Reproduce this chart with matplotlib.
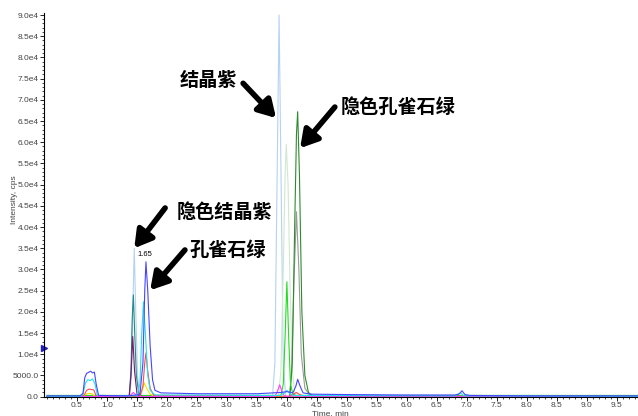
import matplotlib
matplotlib.use("Agg")
import matplotlib.pyplot as plt
from matplotlib.ticker import MultipleLocator

plt.rcParams['font.family'] = ['Noto Sans CJK SC', 'DejaVu Sans']

# ---- data: chromatogram traces (time in min, intensity in cps) ----
blue_t = [0, 0.55, 0.6, 0.63, 0.66, 0.7, 0.73, 0.76, 0.79, 0.82, 0.86, 1.35, 1.55, 1.6, 1.63, 1.65, 1.68,
          1.72, 1.76, 1.8, 1.9, 2.5, 3.5, 3.9, 4.0, 4.1, 4.15, 4.18, 4.22, 4.27, 4.4, 5.0, 6.0, 6.8, 6.87,
          6.92, 6.97, 7.05, 8.0, 9.85]
blue_i = [200, 200, 800, 4500, 5500, 5800, 6000, 5600, 5800, 3000, 300, 200, 500, 8000, 25000, 31800, 25000,
          12000, 4000, 1500, 900, 700, 700, 1000, 1200, 900, 2500, 4100, 2500, 900, 600, 500, 400, 400, 600,
          1400, 500, 300, 200, 200]

cyan_t = [0, 0.56, 0.6, 0.64, 0.68, 0.72, 0.76, 0.8, 0.84, 1.5, 1.55, 1.58, 1.61, 1.64, 1.68, 1.72, 1.8,
          3.9, 3.96, 4.0, 4.04, 4.1, 6.8, 6.86, 6.9, 6.95, 9.85]
cyan_i = [100, 100, 600, 3200, 4000, 3800, 4200, 3000, 300, 200, 3000, 15000, 22400, 15000, 5000, 1500, 400,
          300, 900, 1500, 900, 300, 200, 700, 900, 200, 100]

red_t = [0, 0.58, 0.62, 0.66, 0.7, 0.74, 0.78, 0.82, 1.55, 1.6, 1.63, 1.65, 1.68, 1.72, 1.78,
         4.05, 4.12, 4.16, 4.2, 4.3, 9.85]
red_i = [50, 50, 400, 1500, 1800, 1700, 1600, 200, 100, 2500, 8000, 10300, 6000, 2000, 300,
         100, 700, 1000, 600, 100, 50]

yellow_t = [0, 0.6, 0.65, 0.7, 0.75, 0.8, 1.55, 1.59, 1.62, 1.66, 1.72, 1.8, 9.85]
yellow_i = [0, 0, 600, 800, 700, 50, 0, 1500, 3300, 2000, 600, 50, 0]

magenta_t = [0, 1.38, 1.41, 1.44, 1.47, 1.5, 3.8, 3.84, 3.88, 3.92, 3.96, 9.85]
magenta_i = [50, 50, 600, 1000, 600, 50, 50, 1200, 2800, 1200, 100, 50]

lightblue_t = [0, 1.38, 1.41, 1.43, 1.455, 1.48, 1.51, 1.55, 3.76, 3.8, 3.84, 3.87, 3.9, 3.94, 3.98, 9.85]
lightblue_i = [0, 0, 5000, 20000, 35000, 20000, 5000, 0, 0, 8000, 55000, 90000, 55000, 8000, 0, 0]

teal_t = [0, 1.37, 1.4, 1.42, 1.44, 1.46, 1.49, 1.53, 1.6, 9.85]
teal_i = [0, 0, 6000, 18000, 24000, 16000, 5000, 800, 0, 0]

purple_t = [0, 1.37, 1.4, 1.43, 1.46, 1.5, 1.55, 9.85]
purple_i = [0, 0, 5000, 14200, 6000, 800, 0, 0]

palegreen_t = [0, 3.86, 3.9, 3.94, 3.97, 3.99, 4.02, 4.05, 4.09, 4.14, 9.85]
palegreen_i = [0, 0, 6000, 30000, 52000, 59500, 50000, 28000, 6000, 0, 0]

green_t = [0, 3.9, 3.94, 3.97, 4.0, 4.03, 4.06, 4.1, 4.15, 9.85]
green_i = [300, 300, 3000, 14000, 27100, 14000, 3000, 600, 300, 300]

darkgreen_t = [0, 4.05, 4.09, 4.13, 4.16, 4.18, 4.21, 4.25, 4.3, 4.36, 4.45, 9.85]
darkgreen_i = [0, 0, 8000, 40000, 62000, 67200, 52000, 20000, 5000, 1000, 0, 0]

gray_t = [0, 4.04, 4.08, 4.12, 4.16, 4.2, 4.24, 4.3, 4.4, 9.85]
gray_i = [0, 0, 6000, 28000, 43600, 30000, 10000, 2000, 0, 0]

traces = [
    (lightblue_t, lightblue_i, '#b4d2f2'),
    (palegreen_t, palegreen_i, '#cfe8cf'),
    (gray_t, gray_i, '#9a9a9a'),
    (darkgreen_t, darkgreen_i, '#2e8b2e'),
    (green_t, green_i, '#22dd22'),
    (teal_t, teal_i, '#228888'),
    (purple_t, purple_i, '#7a1a6a'),
    (yellow_t, yellow_i, '#f0e000'),
    (red_t, red_i, '#ff4a4a'),
    (magenta_t, magenta_i, '#ff40ff'),
    (cyan_t, cyan_i, '#22e0f0'),
    (blue_t, blue_i, '#4646ff'),
]

ytick_vals = [0, 5000, 10000, 15000, 20000, 25000, 30000, 35000, 40000, 45000,
              50000, 55000, 60000, 65000, 70000, 75000, 80000, 85000, 90000]
ytick_labels = ['0.0', '5000.0', '1.0e4', '1.5e4', '2.0e4', '2.5e4', '3.0e4', '3.5e4', '4.0e4', '4.5e4',
                '5.0e4', '5.5e4', '6.0e4', '6.5e4', '7.0e4', '7.5e4', '8.0e4', '8.5e4', '9.0e4']
xtick_vals = [0.5, 1.0, 1.5, 2.0, 2.5, 3.0, 3.5, 4.0, 4.5, 5.0, 5.5, 6.0, 6.5, 7.0, 7.5, 8.0, 8.5, 9.0, 9.5]

annotations = [
    ('结晶紫', (2.69, 74600), (3.27, 73900), (3.82, 65700)),
    ('隐色孔雀石绿', (5.85, 68300), (4.80, 68300), (4.22, 58600)),
    ('隐色结晶紫', (2.96, 43500), (1.97, 44500), (1.455, 35000)),
    ('孔雀石绿', (3.02, 34600), (2.30, 34600), (1.72, 25100)),
]

# ---- figure ----
W, H = 638, 416
fig = plt.figure(figsize=(W / 100, H / 100), dpi=100)
ymax = 90500
px_per = 381.7 / 90000
ax_bottom = 19.3 / H
ax_h = ymax * px_per / H
ax = fig.add_axes([44 / W, ax_bottom, (W - 44) / W, ax_h])

for t, i, c in traces:
    ax.plot(t, i, color=c, lw=0.8)

ax.set_xlim(-0.05, 9.855)
ax.set_ylim(0, ymax)
for s in ['top', 'right']:
    ax.spines[s].set_visible(False)
for s in ['left', 'bottom']:
    ax.spines[s].set_linewidth(0.8)

ax.set_xticks(xtick_vals)
ax.set_xticklabels([f'{v:.1f}' for v in xtick_vals])
ax.xaxis.set_minor_locator(MultipleLocator(0.1))
ax.set_yticks(ytick_vals)
ax.set_yticklabels(ytick_labels)
ax.yaxis.set_minor_locator(MultipleLocator(1000))
ax.tick_params(axis='both', which='major', length=3, width=0.6, labelsize=6, pad=1,
               labelcolor='#444444', labelfontfamily='Liberation Sans')
ax.tick_params(axis='both', which='minor', length=1.5, width=0.5)

fig.text(14 / W, 1 - 200 / H, 'Intensity, cps', rotation=90, ha='center', va='center',
         fontsize=6, family='Liberation Sans', color='#444444')
fig.text(330 / W, 1 - 414 / H, 'Time, min', ha='center', va='center',
         fontsize=6, family='Liberation Sans', color='#444444')

ax.plot([-0.05], [11400], marker='>', color='#2020c0', markersize=4, clip_on=False)
ax.text(1.64, 32700, '1.65', fontsize=5.5, ha='center', va='bottom', family='Liberation Sans')

for label, tpos, tail, head in annotations:
    ax.text(tpos[0], tpos[1], label, fontsize=13.8, fontweight='bold', ha='center', va='center')
    ax.annotate('', xy=head, xytext=tail,
                arrowprops=dict(arrowstyle='-|>,head_length=0.85,head_width=0.5', lw=4,
                                color='black', shrinkA=0, shrinkB=0, mutation_scale=12))

fig.savefig('out.png', dpi=100)
